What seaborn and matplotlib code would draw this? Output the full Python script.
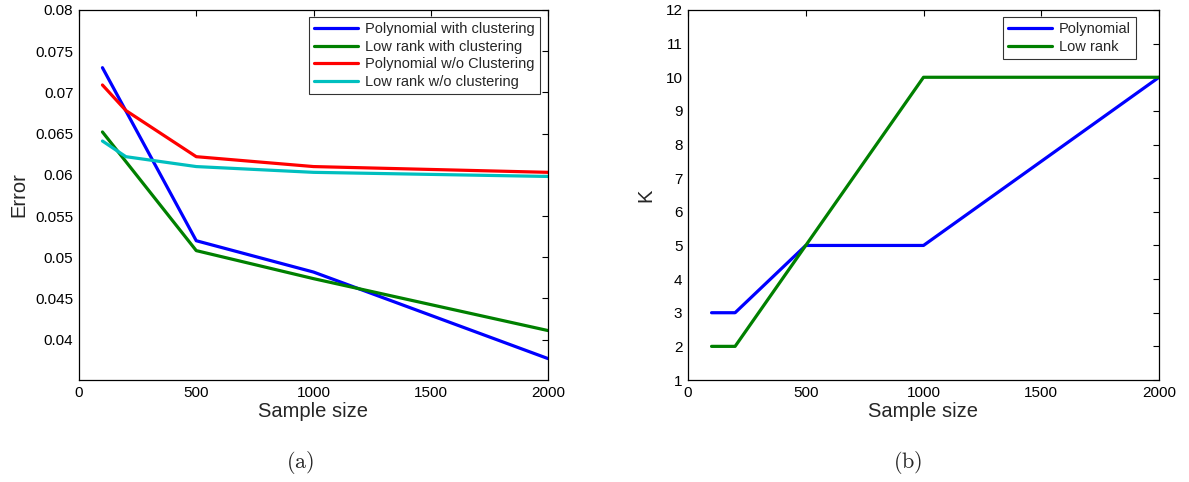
import pandas as pd
import seaborn as sns
import matplotlib.pyplot as plt
from matplotlib.ticker import FixedLocator, FormatStrFormatter

sample_sizes = [100, 200, 500, 1000, 2000]

poly_clust = [0.0730, 0.06775, 0.0520, 0.0482, 0.0377]
lowrank_clust = [0.0652, 0.0616, 0.0508, 0.0474, 0.0411]
poly_noclust = [0.0709, 0.0678, 0.0622, 0.0610, 0.0603]
lowrank_noclust = [0.0641, 0.0622, 0.0610, 0.0603, 0.0598]

k_poly = [3, 3, 5, 5, 10]
k_lowrank = [2, 2, 5, 10, 10]

err_names = ['Polynomial with clustering', 'Low rank with clustering',
             'Polynomial w/o Clustering', 'Low rank w/o clustering']
k_names = ['Polynomial', 'Low rank']

err_colors = ['#0000ff', '#008000', '#ff0000', '#00bfbf']
k_colors = ['#0000ff', '#008000']

rows = []
for name, vals in zip(err_names, [poly_clust, lowrank_clust, poly_noclust, lowrank_noclust]):
    for x, v in zip(sample_sizes, vals):
        rows.append({'Sample size': x, 'Error': v, 'method': name})
err_df = pd.DataFrame(rows)

rows = []
for name, vals in zip(k_names, [k_poly, k_lowrank]):
    for x, v in zip(sample_sizes, vals):
        rows.append({'Sample size': x, 'K': v, 'method': name})
k_df = pd.DataFrame(rows)

sns.set_style('white')
plt.rcParams['font.family'] = ['Liberation Sans', 'DejaVu Sans']
plt.rcParams['mathtext.fontset'] = 'cm'

fig = plt.figure(figsize=(11.89, 4.82), dpi=100)
W, H = 1189, 482
ax1 = fig.add_axes([79 / W, 1 - 380 / H, (548 - 79) / W, 370 / H])
ax2 = fig.add_axes([688 / W, 1 - 380 / H, (1159 - 688) / W, 370 / H])

sns.lineplot(data=err_df, x='Sample size', y='Error', hue='method', hue_order=err_names,
             palette=err_colors, linewidth=2.3, ax=ax1, sort=False)
sns.lineplot(data=k_df, x='Sample size', y='K', hue='method', hue_order=k_names,
             palette=k_colors, linewidth=2.3, ax=ax2, sort=False)

ax1.set_xlim(0, 2000)
ax1.set_ylim(0.0351, 0.08)
ax1.yaxis.set_major_locator(FixedLocator([0.04, 0.045, 0.05, 0.055, 0.06, 0.065, 0.07, 0.075, 0.08]))
ax1.yaxis.set_major_formatter(FormatStrFormatter('%g'))

ax2.set_xlim(0, 2000)
ax2.set_ylim(1, 12)
ax2.set_yticks(range(1, 13))

legend_right = {ax1: (540 - 79) / (548 - 79), ax2: (1136 - 688) / (1159 - 688)}
for ax in (ax1, ax2):
    ax.set_xticks([0, 500, 1000, 1500, 2000])
    ax.tick_params(direction='in', top=True, right=True, length=4, width=0.8,
                   labelsize=11, colors='black', pad=4)
    for s in ax.spines.values():
        s.set_color('black')
        s.set_linewidth(0.9)
    ax.set_xlabel('Sample size', fontsize=14.5, labelpad=2)
    leg = ax.legend(loc='upper right', bbox_to_anchor=(legend_right[ax], 1 - 7 / 370),
                    borderaxespad=0, fontsize=10.5, frameon=True, fancybox=False,
                    edgecolor='black', handlelength=3.0, borderpad=0.35,
                    labelspacing=0.25, handletextpad=0.5)
    leg.get_frame().set_linewidth(0.8)
    for line in leg.get_lines():
        line.set_linewidth(2.3)

ax1.set_ylabel('Error', fontsize=14.5, labelpad=5)
ax2.set_ylabel('K', fontsize=14.5, labelpad=7)

fig.text(300 / W, 1 - 463 / H, r'$\mathrm{(a)}$', ha='center', va='center', fontsize=16)
fig.text(908 / W, 1 - 463 / H, r'$\mathrm{(b)}$', ha='center', va='center', fontsize=16)

fig.savefig('out.png', dpi=100, facecolor='white')
